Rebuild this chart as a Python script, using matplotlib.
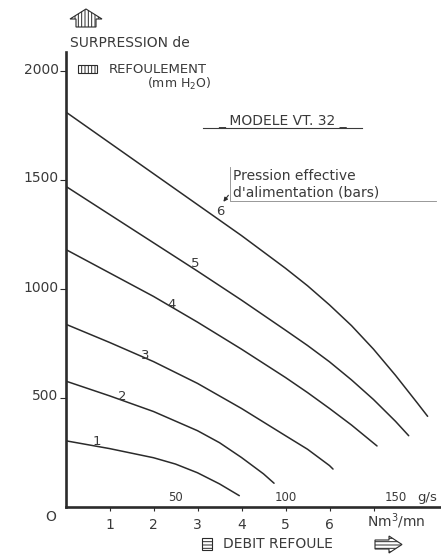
import matplotlib
matplotlib.use('Agg')
import matplotlib.pyplot as plt
import matplotlib.transforms as mtransforms
from matplotlib.patches import Polygon, Rectangle

W, H = 441, 555
INK = '#2b2b2b'
TXT = '#3a3a3a'

# data: flow (Nm3/mn) vs discharge overpressure (mm H2O)
pressures = ['1', '2', '3', '4', '5', '6']
flow_1 = [0, 1, 2, 2.5, 3, 3.5, 3.95]
over_1 = [304, 268, 226, 197, 157, 106, 52]
flow_2 = [0, 1, 2, 3, 3.5, 4, 4.5, 4.74]
over_2 = [578, 510, 438, 350, 295, 227, 152, 109]
flow_3 = [0, 1, 2, 3, 4, 5, 5.5, 6, 6.08]
over_3 = [839, 755, 667, 567, 452, 327, 265, 190, 174]
flow_4 = [0, 1, 2, 3, 4, 5, 5.5, 6, 6.5, 7.08]
over_4 = [1182, 1074, 966, 848, 724, 594, 525, 452, 376, 280]
flow_5 = [0, 1, 2, 3, 4, 5, 5.5, 6, 6.5, 7, 7.5, 7.8]
over_5 = [1472, 1342, 1212, 1082, 949, 811, 741, 666, 583, 493, 393, 327]
flow_6 = [0, 1, 2, 3, 4, 4.5, 5, 5.5, 6, 6.5, 7, 7.5, 8, 8.23]
over_6 = [1813, 1671, 1529, 1387, 1245, 1170, 1095, 1015, 927, 832, 724, 604, 476, 416]

# label position of each curve number
label_x = [0.72, 1.28, 1.81, 2.41, 2.94, 3.51]
label_y = [300, 506, 697, 927, 1118, 1355]

y_ticks = [500, 1000, 1500, 2000]
x_ticks = [1, 2, 3, 4, 5, 6, 7]
x_tick_labels = ['1', '2', '3', '4', '5', '6', '']
gs_ticks = [2.5, 5, 7.5]
gs_labels = ['50', '100', '150']


def fx(px):
    return px / W


def fy(py):
    return 1 - py / H


plt.rcParams['hatch.linewidth'] = 0.7
plt.rcParams['font.family'] = ['DejaVu Sans']

fig = plt.figure(figsize=(W / 100, H / 100), dpi=100)
ax = fig.add_axes([fx(65.5), fy(507), fx(W - 65.5), (507 - 52) / H])
ax.set_xlim(0, (W - 65.5) / 44)
ax.set_ylim(0, (507 - 52) / 0.218)

for s in ['top', 'right']:
    ax.spines[s].set_visible(False)
for s in ['left', 'bottom']:
    ax.spines[s].set_linewidth(1.9)
    ax.spines[s].set_color(INK)

curves = [(flow_1, over_1), (flow_2, over_2), (flow_3, over_3),
          (flow_4, over_4), (flow_5, over_5), (flow_6, over_6)]
for (xs, ys) in curves:
    ax.plot(xs, ys, color=INK, lw=1.1, solid_capstyle='round', solid_joinstyle='round')

for lab, lx, ly in zip(pressures, label_x, label_y):
    ax.text(lx, ly, lab, fontsize=9.5, color=TXT, ha='center', va='center')

ax.set_yticks(y_ticks)
ax.set_yticklabels([str(v) for v in y_ticks])
ax.set_xticks(x_ticks)
ax.set_xticklabels(x_tick_labels)
ax.tick_params(axis='y', direction='out', length=4, width=0.8, color=INK,
               labelsize=10, labelcolor=TXT, pad=1)
ax.tick_params(axis='x', direction='out', length=3, width=0.8, color=INK,
               labelsize=10, labelcolor=TXT, pad=5)
shift = mtransforms.ScaledTranslation(0, 3 / 100, fig.dpi_scale_trans)
for t in ax.get_yticklabels():
    t.set_transform(t.get_transform() + shift)

# g/s secondary scale written above the axis
for gx, gl in zip(gs_ticks, gs_labels):
    ax.text(gx, 12, gl, fontsize=8.5, color=TXT, ha='center', va='bottom')
ax.text(8.0, 12, 'g/s', fontsize=9.5, color=TXT, ha='left', va='bottom')

# origin and unit
fig.text(fx(51), fy(517), 'O', fontsize=10, color=TXT, ha='center', va='center')
fig.text(fx(367), fy(521), 'Nm$^3$/mn', fontsize=10, color=TXT, ha='left', va='center')

# y axis title block
arrow_up = [(70, 19), (86, 9), (102, 19), (96, 19), (96, 27), (76, 27), (76, 19)]
fig.patches.append(Polygon([(fx(a), fy(b)) for a, b in arrow_up], closed=True,
                           transform=fig.transFigure, fill=False, hatch='|||||',
                           edgecolor=INK, lw=0.8))
fig.text(fx(70), fy(43), 'SURPRESSION de', fontsize=10, color=TXT, ha='left', va='center')
fig.patches.append(Rectangle((fx(78), fy(73)), fx(19), 8 / H, transform=fig.transFigure,
                             fill=False, hatch='|||||', edgecolor=INK, lw=0.8))
fig.text(fx(109), fy(69), 'REFOULEMENT', fontsize=9.5, color=TXT, ha='left', va='center')
fig.text(fx(147), fy(84), '(mm H$_2$O)', fontsize=9, color=TXT, ha='left', va='center')

# model title
fig.text(fx(282), fy(121), '_ MODELE VT. 32 _', fontsize=10, color=TXT, ha='center', va='center')
fig.add_artist(plt.Line2D([fx(203), fx(362)], [fy(128), fy(128)], color=TXT, lw=0.8))

# pressure note with bracket
fig.text(fx(233), fy(176), 'Pression effective', fontsize=10, color=TXT, ha='left', va='center')
fig.text(fx(233), fy(193), "d'alimentation (bars)", fontsize=10, color=TXT, ha='left', va='center')
fig.add_artist(plt.Line2D([fx(230), fx(230), fx(436)], [fy(167), fy(201), fy(201)],
                          color='#888888', lw=0.6))
ax.annotate('', xy=(3.55, 1390), xytext=(3.74, 1440),
            arrowprops=dict(arrowstyle='-|>', color=INK, lw=0.8, mutation_scale=6))

# x axis title
fig.patches.append(Rectangle((fx(202), fy(550)), fx(10), 12 / H, transform=fig.transFigure,
                             fill=False, hatch='-----', edgecolor=INK, lw=0.8))
fig.text(fx(223), fy(544), 'DEBIT REFOULE', fontsize=10, color=TXT, ha='left', va='center')
arrow_right = [(375, 540), (389, 540), (389, 536), (402, 544.5), (389, 553), (389, 549), (375, 549)]
fig.patches.append(Polygon([(fx(a), fy(b)) for a, b in arrow_right], closed=True,
                           transform=fig.transFigure, fill=False, hatch='-----',
                           edgecolor=INK, lw=0.8))

fig.savefig('out.png', dpi=100)
